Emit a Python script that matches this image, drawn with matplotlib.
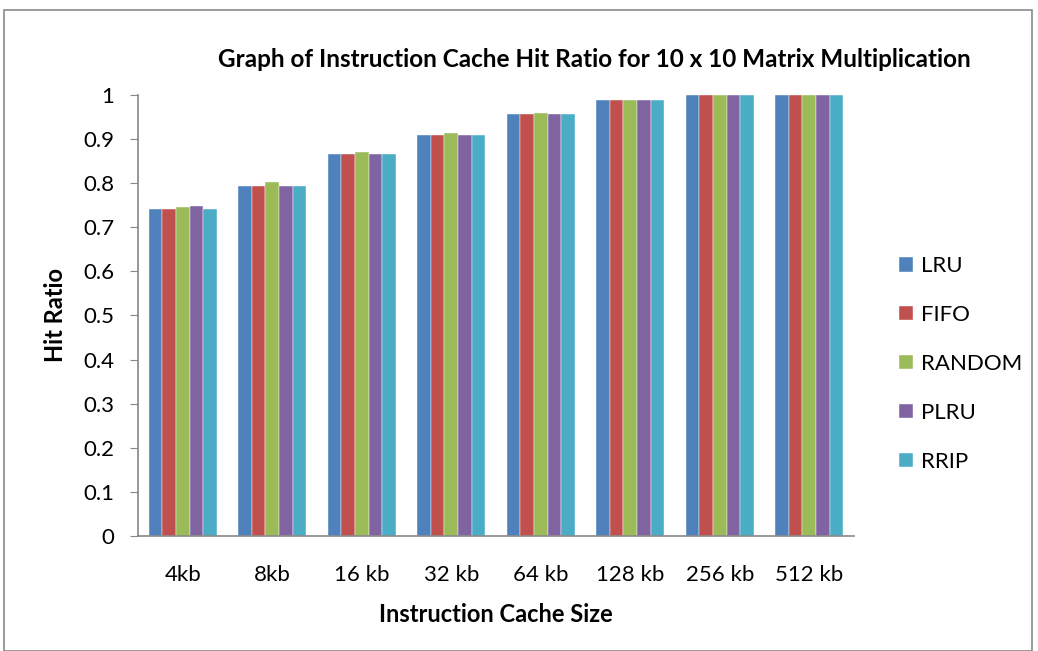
import numpy as np
import matplotlib
matplotlib.use("Agg")
import matplotlib.pyplot as plt
from matplotlib.patches import Rectangle

sizes = ["4kb", "8kb", "16 kb", "32 kb", "64 kb", "128 kb", "256 kb", "512 kb"]
lru = [0.742, 0.794, 0.867, 0.909, 0.956, 0.988, 1.0, 1.0]
fifo = [0.742, 0.794, 0.867, 0.909, 0.956, 0.988, 1.0, 1.0]
random_ = [0.746, 0.803, 0.871, 0.913, 0.960, 0.989, 1.0, 1.0]
plru = [0.749, 0.794, 0.867, 0.909, 0.956, 0.988, 1.0, 1.0]
rrip = [0.742, 0.794, 0.867, 0.909, 0.956, 0.988, 1.0, 1.0]

series = [("LRU", lru), ("FIFO", fifo), ("RANDOM", random_), ("PLRU", plru), ("RRIP", rrip)]
colors = ["#4F81BD", "#C0504D", "#9BBB59", "#8064A2", "#4BACC6"]

plt.rcParams["font.family"] = ["Lato", "DejaVu Sans"]

fig = plt.figure(figsize=(10.38, 6.51), dpi=100)
ax = fig.add_axes([0.1329, 0.1767, 0.6898, 0.6774])

# outer chart border
fig.patches.append(Rectangle((0.004, 0.0), 0.99, 0.985, transform=fig.transFigure,
                             fill=False, edgecolor="#8a8a8a", linewidth=1.2))

x = np.arange(len(sizes))
w = 0.152
for i, (name, vals) in enumerate(series):
    ax.bar(x + (i - 2) * w, vals, width=w, color=colors[i], label=name,
           edgecolor="white", linewidth=0.3)

ax.set_xlim(-0.5, len(sizes) - 0.5)
ax.set_ylim(0, 1)
ax.set_yticks(np.arange(0, 1.01, 0.1))
ax.set_yticklabels(["0", "0.1", "0.2", "0.3", "0.4", "0.5", "0.6", "0.7", "0.8", "0.9", "1"])
ax.set_xticks(x)
ax.set_xticklabels(sizes)
ax.tick_params(axis="x", length=0, pad=21, labelsize=16)
ax.tick_params(axis="y", length=6, color="#888888", pad=11, labelsize=16)

for s in ["top", "right"]:
    ax.spines[s].set_visible(False)
for s in ["left", "bottom"]:
    ax.spines[s].set_color("#888888")
    ax.spines[s].set_linewidth(1.2)

ax.set_xlabel("Instruction Cache Size", fontsize=17, fontweight="bold", labelpad=13)
ax.set_ylabel("Hit Ratio", fontsize=17, fontweight="bold", labelpad=12)
fig.text(0.573, 0.908, "Graph of Instruction Cache Hit Ratio for 10 x 10 Matrix Multiplication",
         ha="center", va="center", fontsize=17.5, fontweight="bold")

ax.legend(loc="upper left", bbox_to_anchor=(0.847, 0.637), bbox_transform=fig.transFigure,
          frameon=False, fontsize=16, handlelength=0.6, handleheight=0.6,
          labelspacing=1.3, handletextpad=0.4)

fig.savefig("out.png", dpi=100)
